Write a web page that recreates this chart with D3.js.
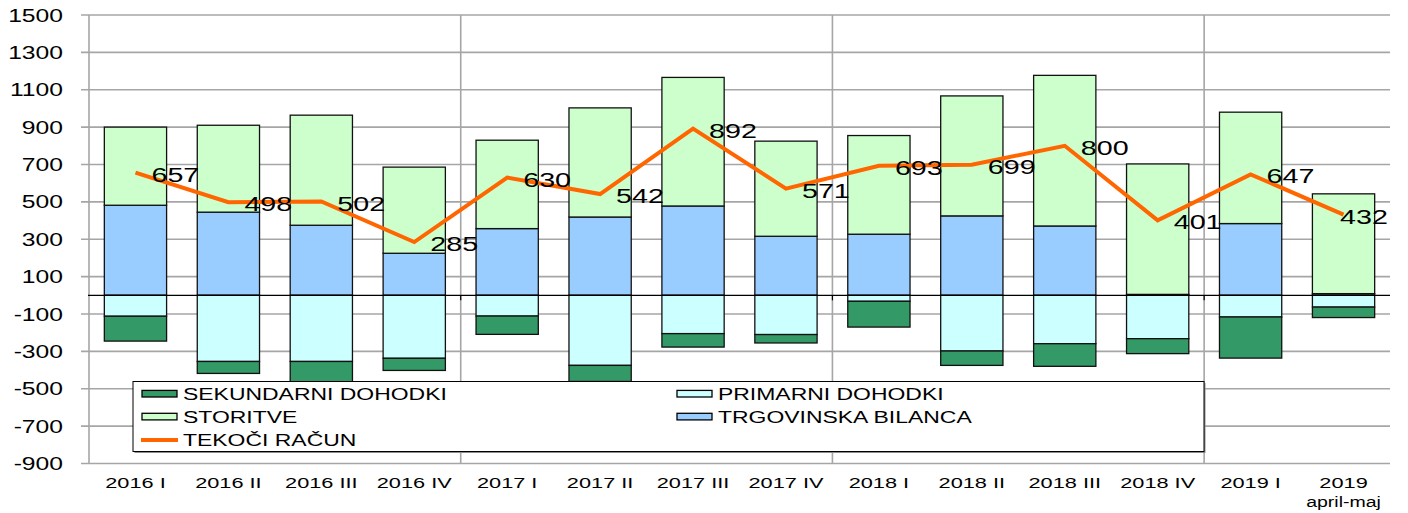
<!DOCTYPE html>
<html>
<head>
<meta charset="utf-8">
<script src="https://cdn.jsdelivr.net/npm/d3@7"></script>
<style>
  html, body { margin: 0; padding: 0; background: #fff; }
  svg { display: block; font-family: "Liberation Sans", Arial, sans-serif; }
</style>
</head>
<body>
<div id="chart"></div>
<script>
// categories (second line of label after \n)
const categories = ['2016 I', '2016 II', '2016 III', '2016 IV', '2017 I', '2017 II', '2017 III', '2017 IV',
    '2018 I', '2018 II', '2018 III', '2018 IV', '2019 I', '2019\napril-maj'];

// series values (mio EUR)
const trgovinskaBilanca = [482, 445, 375, 225, 357, 419, 478, 316, 327, 425, 371, 5, 384, 9];
const storitve = [418, 465, 589, 461, 473, 584, 688, 509, 528, 642, 806, 698, 596, 534];
const primarniDohodki = [-112, -354, -354, -337, -111, -375, -205, -210, -32, -298, -259, -232, -116, -63];
const sekundarniDohodki = [-133, -64, -108, -65, -98, -86, -72, -45, -138, -77, -121, -80, -220, -56];
const tekociRacun = [657, 498, 502, 285, 630, 542, 892, 571, 693, 699, 800, 401, 647, 432];

const yTicks = [1500, 1300, 1100, 900, 700, 500, 300, 100, -100, -300, -500, -700, -900];

const width = 1408, height = 513;
const plot = { left: 89, right: 1390, top: 15, bottom: 463.5 };
const stretch = 1.4; // text in the original is widened horizontally

const svg = d3.select('#chart').append('svg')
    .attr('width', width)
    .attr('height', height);

const x = d3.scaleBand()
    .domain(categories)
    .range([plot.left, plot.right])
    .padding(0);
const barW = x.bandwidth() * 0.67;
const y = d3.scaleLinear()
    .domain([-900, 1500])
    .range([plot.bottom, plot.top]);

// horizontal gridlines
svg.append('g')
    .selectAll('line')
    .data(yTicks)
    .join('line')
    .attr('x1', plot.left - 8)
    .attr('x2', plot.right)
    .attr('y1', d => y(d))
    .attr('y2', d => y(d))
    .attr('stroke', '#a6a6a6')
    .attr('stroke-width', 1.6);

// vertical lines: axis + every 4 categories
const vLines = [0, 4, 8, 12].map(i => x(categories[i]));
svg.append('g')
    .selectAll('line')
    .data(vLines)
    .join('line')
    .attr('x1', d => d)
    .attr('x2', d => d)
    .attr('y1', plot.top)
    .attr('y2', plot.bottom)
    .attr('stroke', '#a6a6a6')
    .attr('stroke-width', 1.6);

// y labels
svg.append('g')
    .selectAll('text')
    .data(yTicks)
    .join('text')
    .attr('transform', d => `translate(63, ${y(d) + 6.5}) scale(1.37,1)`)
    .attr('text-anchor', 'end')
    .attr('font-size', 18)
    .attr('fill', '#000')
    .text(d => d);

// stacked bars
const series = [
    { name: 'TRGOVINSKA BILANCA', values: trgovinskaBilanca, color: '#99ccff' },
    { name: 'STORITVE', values: storitve, color: '#ccffcc' },
    { name: 'PRIMARNI DOHODKI', values: primarniDohodki, color: '#ccffff' },
    { name: 'SEKUNDARNI DOHODKI', values: sekundarniDohodki, color: '#339966' }
];
const segs = [];
categories.forEach((c, i) => {
    let pos = 0, neg = 0;
    series.forEach(s => {
        const v = s.values[i];
        let y0, y1;
        if (v >= 0) { y0 = pos; y1 = pos + v; pos = y1; }
        else { y0 = neg; y1 = neg + v; neg = y1; }
        segs.push({ cat: c, y0, y1, color: s.color });
    });
});
svg.append('g')
    .selectAll('rect')
    .data(segs)
    .join('rect')
    .attr('x', d => x(d.cat) + (x.bandwidth() - barW) / 2)
    .attr('width', barW)
    .attr('y', d => y(Math.max(d.y0, d.y1)))
    .attr('height', d => Math.abs(y(d.y0) - y(d.y1)))
    .attr('fill', d => d.color)
    .attr('stroke', '#111')
    .attr('stroke-width', 1.3);

// zero line and its ticks
svg.append('line')
    .attr('x1', plot.left - 1)
    .attr('x2', plot.right)
    .attr('y1', y(0))
    .attr('y2', y(0))
    .attr('stroke', '#000')
    .attr('stroke-width', 1.2);
svg.append('g')
    .selectAll('line')
    .data(vLines.slice(1))
    .join('line')
    .attr('x1', d => d)
    .attr('x2', d => d)
    .attr('y1', y(0))
    .attr('y2', y(0) + 5)
    .attr('stroke', '#000')
    .attr('stroke-width', 1.2);

// current account line
const cx = c => x(c) + x.bandwidth() / 2;
svg.append('path')
    .datum(tekociRacun)
    .attr('fill', 'none')
    .attr('stroke', '#ff6600')
    .attr('stroke-width', 4)
    .attr('stroke-linejoin', 'miter')
    .attr('d', d3.line()
        .x((d, i) => cx(categories[i]))
        .y(d => y(d)));

// data labels
const labelW = 50;
svg.append('g')
    .selectAll('text')
    .data(tekociRacun)
    .join('text')
    .attr('transform', (d, i) => {
        let lx = cx(categories[i]) + 16;
        if (lx + labelW > plot.right) lx = plot.right - labelW;
        return `translate(${lx}, ${y(d) + 9}) scale(${stretch},1)`;
    })
    .attr('font-size', 20.5)
    .attr('fill', '#000')
    .text(d => d);

// category labels
const catG = svg.append('g');
categories.forEach(c => {
    c.split('\n').forEach((line, j) => {
        catG.append('text')
            .attr('transform', `translate(${cx(c)}, ${488 + j * 19}) scale(${j ? 1.3 : 1.45},1)`)
            .attr('text-anchor', 'middle')
            .attr('font-size', 15)
            .attr('fill', '#000')
            .text(line);
    });
});

// legend
const lg = { x: 133, y: 381.5, w: 1071, h: 70 };
svg.append('rect')
    .attr('x', lg.x + 1.5).attr('y', lg.y + 1.5)
    .attr('width', lg.w).attr('height', lg.h)
    .attr('fill', '#8c8c8c');
svg.append('rect')
    .attr('x', lg.x).attr('y', lg.y)
    .attr('width', lg.w).attr('height', lg.h)
    .attr('fill', '#fff')
    .attr('stroke', '#000')
    .attr('stroke-width', 1);

const legendItems = [
    { name: 'SEKUNDARNI DOHODKI', color: '#339966', col: 0, row: 0 },
    { name: 'PRIMARNI DOHODKI', color: '#ccffff', col: 1, row: 0 },
    { name: 'STORITVE', color: '#ccffcc', col: 0, row: 1 },
    { name: 'TRGOVINSKA BILANCA', color: '#99ccff', col: 1, row: 1 },
    { name: 'TEKOČI RAČUN', color: '#ff6600', col: 0, row: 2, line: true }
];
const colX = [142, 677];
const rowY = [393.7, 416.6, 440];
legendItems.forEach(it => {
    const sx = colX[it.col], sy = rowY[it.row];
    if (it.line) {
        svg.append('line')
            .attr('x1', sx - 1).attr('x2', sx + 36)
            .attr('y1', sy).attr('y2', sy)
            .attr('stroke', it.color)
            .attr('stroke-width', 4);
    } else {
        svg.append('rect')
            .attr('x', sx).attr('y', sy - 3.3)
            .attr('width', 35).attr('height', 6.6)
            .attr('fill', it.color)
            .attr('stroke', '#000')
            .attr('stroke-width', 1.3);
    }
    svg.append('text')
        .attr('transform', `translate(${sx + 41}, ${sy + 6}) scale(1.35,1)`)
        .attr('font-size', 17)
        .attr('fill', '#000')
        .text(it.name);
});
</script>
</body>
</html>
